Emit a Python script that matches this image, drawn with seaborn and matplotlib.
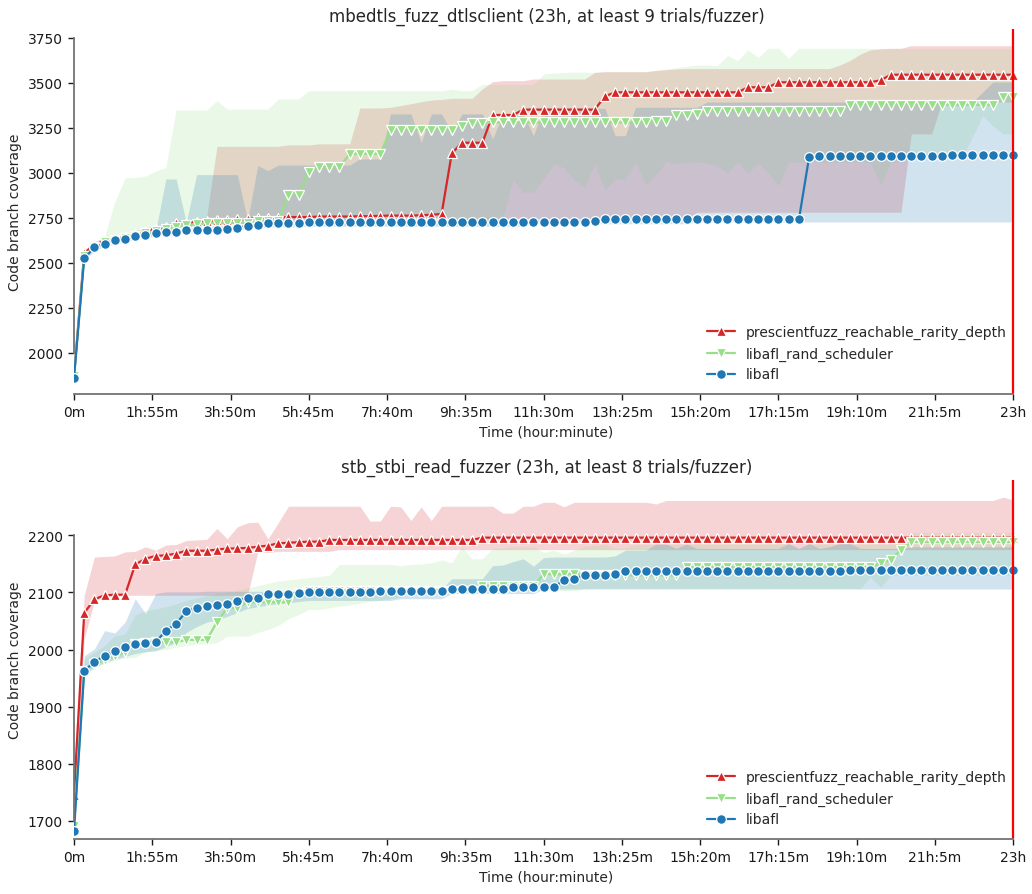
import matplotlib
matplotlib.use("Agg")
import matplotlib.pyplot as plt
import numpy as np
import pandas as pd
import seaborn as sns

# ---------------- data ----------------
FUZZERS = ["prescientfuzz_reachable_rarity_depth", "libafl_rand_scheduler", "libafl"]
COLORS = ["#d62728", "#98df8a", "#1f77b4"]
MARKERS = ["^", "v", "o"]

TIME_S = list(range(0, 82801, 900))          # snapshot every 15 minutes
XTICKS = list(range(0, 82801, 6900))
XTICK_LABELS = ["0m", "1h:55m", "3h:50m", "5h:45m", "7h:40m", "9h:35m", "11h:30m",
                "13h:25m", "15h:20m", "17h:15m", "19h:10m", "21h:5m", "23h"]

TITLE_TOP = "mbedtls_fuzz_dtlsclient (23h, at least 9 trials/fuzzer)"
TITLE_BOT = "stb_stbi_read_fuzzer (23h, at least 8 trials/fuzzer)"

# --- mbedtls_fuzz_dtlsclient ---
t_red_mean = ([1870, 2555, 2600, 2625, 2640, 2648, 2660, 2680, 2690, 2700, 2722, 2722, 2730,
               2735, 2737, 2740, 2742, 2745, 2750, 2752, 2752, 2755, 2755, 2755, 2758, 2758,
               2758, 2758, 2760, 2760, 2762, 2763, 2763, 2763, 2765, 2768, 2772, 3109, 3168,
               3168, 3168, 3322, 3322, 3322] + [3352] * 8 + [3426] + [3448] * 13 + [3476] * 3
              + [3504] * 10 + [3515] + [3546] * 13)
t_red_lo = ([1850, 2530, 2580, 2605, 2620, 2630, 2640, 2655, 2665, 2675, 2690, 2695, 2700]
            + [2712] * 29 + [2746] * 19 + [2782] * 21 + [3217] * 3 + [3394] * 8)
t_red_hi = ([1890, 2575, 2620, 2640, 2655, 2665, 2680, 2695, 2705, 2715, 2735, 2740, 2745, 2760]
            + [3148] * 7 + [3156] * 3 + [3162] * 4 + [3361] * 3
            + [3365, 3375, 3385, 3396, 3405, 3409] + [3415] * 3 + [3467, 3507] + [3513] * 3
            + [3522] * 6 + [3559] + [3563] * 5 + [3570, 3574, 3578] + [3580] * 15
            + [3600, 3625, 3660, 3684, 3690, 3693, 3693] + [3707] * 11)

t_green_mean = ([1870, 2540, 2590, 2615, 2630, 2640, 2650, 2665, 2675, 2690, 2700, 2710, 2715,
                 2722, 2722, 2722, 2722, 2722, 2732, 2732, 2732, 2878, 2878, 3007, 3032, 3032,
                 3032, 3106, 3106, 3106, 3106] + [3241] * 7 + [3263, 3276, 3276] + [3281] * 16
                + [3290, 3290, 3324, 3324, 3326] + [3345] * 14 + [3378] * 15 + [3420, 3420])
t_green_lo = ([1850, 2520, 2575, 2600, 2615, 2625, 2635, 2648, 2655, 2665, 2675, 2690, 2692,
               2695, 2698, 2700, 2702, 2705, 2705, 2705, 2705] + [2712] * 21
              + [2750, 2967, 2893, 2893, 2970, 3050, 3030, 2960, 2923, 3050, 2906, 2967, 2967,
                 3061, 2934, 2990, 3065, 3050, 3060, 3061, 3055, 3040, 3000, 3061, 3000, 3055,
                 3000, 2929, 3061] + [3060] * 8 + [2934, 3060, 3065] + [3085] * 6
              + [3200, 3318, 3260, 3217, 3217])
t_green_hi = ([1880, 2560, 2610, 2650, 2839, 2972, 2975, 2983, 3010, 3032] + [3350] * 4
              + [3402] + [3355] * 5 + [3411] * 3 + [3457] * 14 + [3465, 3457, 3457]
              + [3492] * 6 + [3550, 3555, 3558, 3561, 3560, 3559] + [3562] * 5
              + [3568, 3578, 3585, 3592, 3600, 3600, 3596, 3652, 3624, 3684, 3643, 3693, 3693,
                 3637] + [3693] * 8 + [3690] * 14)

t_blue_mean = ([1860, 2526, 2587, 2607, 2628, 2633, 2648, 2654, 2665, 2672, 2674, 2681, 2681,
                2681, 2681, 2689, 2693, 2706, 2713, 2720, 2720, 2722, 2722] + [2725] * 18
               + [2728] * 10 + [2735] + [2742] * 20 + [3089] + [3092] * 6 + [3095] * 7
               + [3100] * 7)
t_blue_lo = ([1850, 2510, 2570, 2590, 2605, 2615, 2630, 2638, 2650, 2655, 2660, 2665, 2668,
              2670, 2672, 2675, 2680, 2690, 2695, 2698, 2700, 2700, 2700] + [2703] * 22
             + [2718] * 16 + [2728] * 32)
t_blue_hi = ([1870, 2540, 2600, 2620, 2640, 2645, 2660, 2668, 2680, 2967, 2967, 2726]
             + [2991] * 5 + [2735, 3041, 3013] + [3044] * 8 + [3078] * 3 + [3328] * 3
             + [3170, 3328, 3328, 3226] + [3328] * 3 + [3189] + [3328] * 3 + [3207]
             + [3359] * 7 + [3207, 3207] + [3365] * 7 + [3394] * 27 + [3450] + [3505] * 3)

# --- stb_stbi_read_fuzzer ---
b_red_mean = ([1745, 2064, 2088, 2095, 2096, 2096, 2149, 2159, 2164, 2165, 2168, 2173, 2173,
               2173, 2175, 2177, 2177, 2178, 2180, 2182, 2186, 2187, 2188, 2189, 2189]
              + [2192] * 15 + [2196] * 53)
b_red_lo = ([1700, 2019, 2085, 2092, 2093] + [2095] * 13 + [2171, 2170] + [2172] * 6
            + [2175] * 67)
b_red_hi = ([1800, 2095, 2162, 2163, 2164, 2171, 2172, 2180, 2174, 2183, 2184, 2191, 2192,
             2193, 2212, 2194, 2215, 2222, 2223, 2194, 2222] + [2251] * 8
            + [2225, 2225, 2251, 2250, 2226, 2250, 2226] + [2251] * 6
            + [2239, 2239, 2251, 2251, 2258, 2258, 2250] + [2258] * 8 + [2255] + [2261] * 33
            + [2267, 2262])

b_green_mean = ([1690, 1963, 1975, 1981, 1988, 1995, 2009, 2012, 2013, 2013, 2013, 2017, 2017,
                 2017, 2048, 2073, 2073, 2083, 2083, 2083, 2083, 2083, 2099] + [2103] * 17
                + [2111] * 6 + [2132] * 4 + [2131] * 4 + [2130] * 6 + [2144] * 19
                + [2151, 2157, 2175] + [2188] * 11)
b_green_lo = ([1680, 1960, 1969, 1975, 1981, 1985, 1986, 1996, 1998, 2000, 2004, 2007, 2009,
               2010, 2012, 2023, 2024, 2023, 2030, 2035, 2042, 2054, 2061, 2070, 2070, 2073,
               2076, 2078, 2081, 2084, 2086, 2089, 2092] + [2103] * 17 + [2107] * 28
              + [2127, 2109] + [2130] * 13)
b_green_hi = ([1700, 1984, 1995, 2007, 2024, 2027, 2061, 2068, 2071, 2075, 2080, 2086, 2090,
               2095, 2098, 2101, 2104, 2108, 2112, 2116, 2120, 2122, 2124, 2126, 2128, 2130]
              + [2149] * 6 + [2147, 2149, 2150, 2152, 2157, 2152, 2180, 2159, 2159, 2177, 2178]
              + [2180] * 3 + [2170, 2174, 2167, 2174, 2181, 2182, 2184, 2177, 2178]
              + [2184] * 5 + [2185] * 10 + [2185, 2177, 2185] + [2185] * 9 + [2205] * 11)

b_blue_mean = ([1682, 1963, 1978, 1989, 1997, 2004, 2009, 2012, 2013, 2033, 2045, 2067, 2073,
                2076, 2078, 2080, 2085, 2091, 2091, 2098, 2098, 2098, 2099] + [2100] * 4
               + [2101] * 3 + [2102] * 2 + [2103] * 5 + [2106] * 6 + [2109] * 5
               + [2122, 2123] + [2131] * 3 + [2132] + [2137] * 6 + [2138] * 16 + [2140] * 17)
b_blue_lo = ([1675, 1955, 1968, 1978, 1983, 1988, 1993, 1996, 1998, 2005, 2012, 2030, 2040,
              2048, 2052, 2058, 2065, 2072, 2075, 2078, 2080, 2082, 2084] + [2086] * 9
             + [2089] * 5 + [2098] * 9 + [2106] * 47)
b_blue_hi = ([1690, 1989, 2001, 2033, 2029, 2048, 2089, 2063, 2098] + [2101] * 4 + [2102] * 10
             + [2106] * 14 + [2124] * 4 + [2147, 2148, 2154, 2159, 2146, 2161] + [2162] * 6
             + [2164] + [2174] * 3 + [2185, 2185, 2177, 2185] + [2177] * 9
             + [2186, 2177, 2186, 2177, 2180, 2186, 2186] + [2177] * 5 + [2180] * 11)

PANELS = [
    dict(title=TITLE_TOP, ylim=(1772, 3800),
         mean=[t_red_mean, t_green_mean, t_blue_mean],
         lo=[t_red_lo, t_green_lo, t_blue_lo],
         hi=[t_red_hi, t_green_hi, t_blue_hi],
         rect=[74 / 1032, 1 - 395 / 895, 945 / 1032, 365 / 895]),
    dict(title=TITLE_BOT, ylim=(1668, 2297),
         mean=[b_red_mean, b_green_mean, b_blue_mean],
         lo=[b_red_lo, b_green_lo, b_blue_lo],
         hi=[b_red_hi, b_green_hi, b_blue_hi],
         rect=[74 / 1032, 1 - 840 / 895, 945 / 1032, 359 / 895]),
]

# ---------------- plot ----------------
sns.set_style("white")
plt.rcParams["font.family"] = ["DejaVu Sans"]
plt.rcParams["font.size"] = 10

fig = plt.figure(figsize=(10.32, 8.95), dpi=100)
palette = dict(zip(FUZZERS, COLORS))
markers = dict(zip(FUZZERS, MARKERS))

for p in PANELS:
    ax = fig.add_axes(p["rect"])
    frames = []
    for name, m, lo, hi, c in zip(FUZZERS, p["mean"], p["lo"], p["hi"], COLORS):
        ax.fill_between(TIME_S, lo, hi, color=c, alpha=0.2, linewidth=0)
        frames.append(pd.DataFrame({"time": TIME_S, "cov": m, "fuzzer": name}))
    df = pd.concat(frames, ignore_index=True)
    sns.lineplot(data=df, x="time", y="cov", hue="fuzzer", style="fuzzer",
                 hue_order=FUZZERS, style_order=FUZZERS, palette=palette,
                 markers=markers, dashes=False, markersize=7, linewidth=1.6,
                 markeredgecolor="white", markeredgewidth=0.9, ax=ax, errorbar=None)
    ax.axvline(82800, color="red", linewidth=1.6)
    ax.set_xlim(0, 83300)
    ax.set_ylim(*p["ylim"])
    ax.set_xticks(XTICKS)
    ax.set_xticklabels(XTICK_LABELS)
    ax.set_title(p["title"], fontsize=12, pad=6)
    ax.set_xlabel("Time (hour:minute)")
    ax.set_ylabel("Code branch coverage")
    ax.tick_params(axis="both", direction="out", length=4.5, width=1, colors="0.1",
                   labelsize=10, left=True, bottom=True)
    leg = ax.legend(loc="lower right", frameon=False, fontsize=10, handlelength=2.0)
    sns.despine(ax=ax, trim=True)
    for s in ("left", "bottom"):
        ax.spines[s].set_color("0.45")
        ax.spines[s].set_linewidth(1.3)

fig.savefig("out.png", dpi=100)
